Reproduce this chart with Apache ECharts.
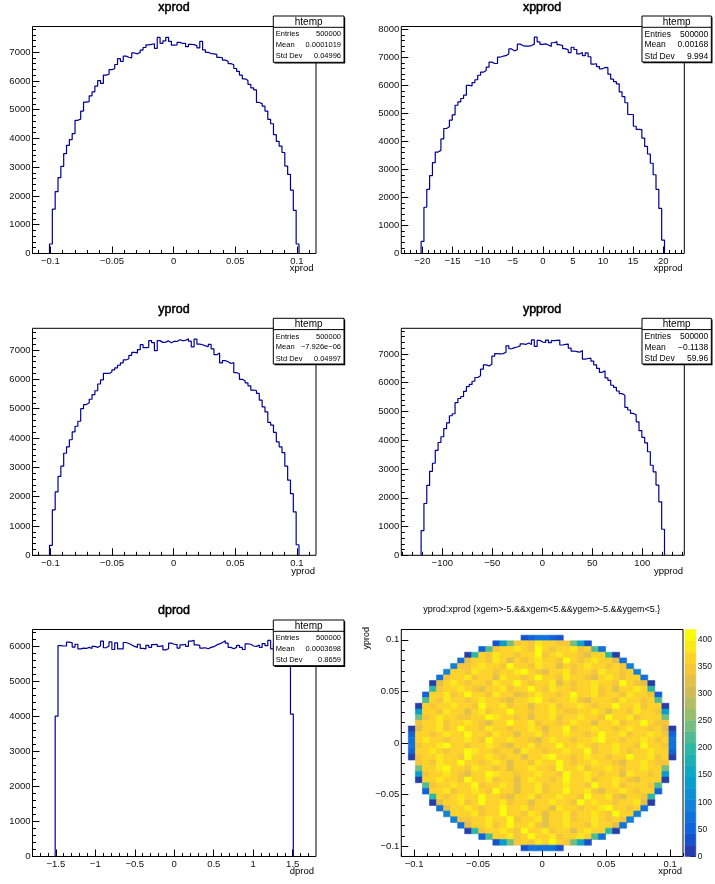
<!DOCTYPE html>
<html><head><meta charset="utf-8">
<script src="https://cdn.jsdelivr.net/npm/echarts@6/dist/echarts.min.js"></script>
<style>html,body{margin:0;padding:0;background:#fff;}#c{width:715px;height:884px;}</style>
</head><body><div id="c"></div>
<script>
// ---------------- DATA ----------------
const xprodCounts = [330,1540,2150,2640,3030,3470,3760,3960,4170,4630,
 4670,4950,5260,5280,5480,5620,5820,6010,5910,6200,
 6230,6390,6420,6570,6770,6680,6860,6820,6800,6970,
 6940,6990,7070,7160,7250,7270,7290,
 7130,7510,7300,7390,7510,7370,7240,7250,7340,7300,7300,7190,7270,7260,7220,7150,7370,
 7080,6990,6950,6940,6920,6820,6800,6720,6680,6600,6560,6430,6330,6200,6070,6010,5880,5760,5690,5250,
 5210,5120,4950,4660,4510,4130,3900,3730,3510,3040,2750,2200,1500,330];
const xpprodCounts = [430,1650,2290,2780,3240,3620,3680,4090,4460,4520,
 4760,4950,5290,5410,5530,5650,6000,5980,6100,6200,
 6360,6470,6530,6650,6830,6780,6780,7010,7040,7060,
 7130,7300,7230,7270,7470,7420,7400,7400,7420,7470,
 7720,7550,7460,7480,7440,7390,7520,7560,7450,7420,
 7310,7260,7170,7360,7280,7120,7170,7060,7160,7020,
 6760,6770,6670,6590,6640,6630,6400,6220,6130,6050,
 5770,5600,5380,4960,4960,4540,4430,4420,4120,3820,3550,3220,2810,2290,1610,480];
const yprodCounts = [340,1550,2160,2690,3040,3480,3700,3940,4210,4400,
 4570,5000,5140,5200,5320,5480,5610,5840,5980,6200,
 6200,6250,6320,6390,6480,6560,6660,6700,6820,6920,
 6900,7010,7180,7080,7090,7320,7250,
 6980,7320,7260,7270,7310,7250,7300,7290,7350,7320,7330,7380,7300,7110,7370,7200,7180,7140,7110,7190,7040,6840,6900,
 6560,6640,6600,6540,6570,6230,6180,6000,5950,5880,5780,5630,5620,5520,
 5290,5060,4890,4530,4440,4190,3870,3700,3500,3040,2560,2100,1480,360];
const ypprodCounts = [860,1800,2430,2920,3200,3650,3920,4120,4400,4600,
 4850,4920,5310,5450,5520,5700,5860,5940,6050,6180,
 6240,6470,6620,6580,6640,6920,7010,7000,7010,7060,
 7280,7180,7220,7240,7280,7350,7330,7380,7330,7490,
 7260,7470,7410,7400,7480,7390,7460,7470,7480,7310,
 7330,7340,7200,7100,7080,7060,7120,6820,6840,6850,
 6750,6620,6500,6360,6410,6170,6080,5910,5840,5710,5620,5560,
 5140,5050,4930,4880,4640,4330,4100,3910,3600,3130,2900,2440,1860,905];
const dprodCounts = [4000,6010,6000,6000,6110,6090,5970,6050,5920,5940,
 5930,5960,5930,5990,5960,6010,6140,5950,6000,6120,
 5900,6090,5920,5920,6100,6070,6030,5990,5960,6050,
 5930,5920,6020,5960,6040,6050,5990,6010,5890,5920,
 6080,6050,6040,5940,6030,6050,5990,6140,6160,6030,
 6020,5940,5950,5920,5960,5980,6030,6060,6100,6150,
 6080,5960,5920,5960,6020,5960,5900,6060,6050,6000,
 5990,6030,5960,6070,6010,6160,5920,6050,5980,6000,
 5930,6050,5990,4060];

// binning (histogram domain, data units)
const xprodBins  = {min:-0.1145, max:0.1155, first:-0.1007, width:0.0023};
const xpprodBins = {min:-23.5, max:23.5, first:-20.21, width:0.47};
const ypprodBins = {min:-141, max:142, first:-121.19, width:2.83};
const dprodBins  = {min:-1.795, max:1.795, first:-1.5078, width:0.0359};

// tick labels
const ticksProd   = [-0.1,-0.05,0,0.05,0.1];
const ticksXpprod = [-20,-15,-10,-5,0,5,10,15,20];
const ticksYpprod = [-100,-50,0,50,100];
const ticksDprod  = [-1.5,-1,-0.5,0,0.5,1,1.5];
const ticksCount7 = [0,1000,2000,3000,4000,5000,6000,7000];
const ticksCount8 = [0,1000,2000,3000,4000,5000,6000,7000,8000];
const ticksCount6 = [0,1000,2000,3000,4000,5000,6000];
const ticksPalette = [0,50,100,150,200,250,300,350,400];

// stats boxes
const statNames = ['Entries','Mean','Std Dev'];
const statsXprod  = ['500000','0.0001019','0.04996'];
const statsXpprod = ['500000','0.00168','9.994'];
const statsYprod  = ['500000','\u22127.926e\u221206','0.04997'];
const statsYpprod = ['500000','\u22120.1138','59.96'];
const statsDprod  = ['500000','0.0003698','0.8659'];

// 2D map yprod:xprod, 40x40 bins on [-0.11,0.11]; rows from y-bin 38 (top) down to 1.
// codes: palette band 0..19 written as base-36 digit (0-9,a-j)
const map2dRange = [-0.11, 0.11];
const map2dBins = 40;
const map2dZmax = 418.5;
const mapRowStart = [17,13,11,9,8,7,6,5,4,4,3,3,2,2,2,2,1,1,1,1,1,1,2,2,2,2,3,3,4,4,5,6,7,8,9,11,13,17];
const mapRows = [
 "123321",
 "16bg"+"hgihhg"+"gb71",
 "2a"+"ghhihgjhghhigh"+"a3",
 "09"+"hgihhghhjghihhgfhh"+"90",
 "3f"+"hhgihfhghihhgjhghihh"+"f3",
 "4g"+"ghihhgjhhgihhfhghihhgh"+"g4",
 "4h"+"hgihhghhijhgfhhighhgihhg"+"h4",
 "3"+"ghhighhfihhghjhhgihhgfhihghh"+"3",
 "0f"+"hihghhgihhjhghhifhghhihhgjhg"+"f0",
 "9"+"ghhihgfhhighhjhgihhghhighfhhih"+"9",
 "2"+"hhighjhhgihhfghihhghjhhighhgihhg"+"2",
 "a"+"hgihhghihhgfhhijhghhigfhhhgihhgh"+"a",
 "0h"+"ghhihhgjhhighhfhhighhihghhjhhigh"+"h0",
 "6"+"hhgihhfhighhjhhghhihgghhihfhhgihhg"+"6",
 "b"+"ghihhgghhjihhghfhhighhihhgjhhighhh"+"b",
 "g"+"hhighhihgfhhjhhighhghihhfhhighhjhg"+"g",
 "0"+"fhhighjhhgihhghhihfhhjghhihhghihhghf"+"0",
 "2"+"hhghihhjhhgihhfhhighhihhghjhhighhihg"+"2",
 "3"+"hihhghhihgjhhihhgfhihhghhijhhghhihgh"+"3",
 "3"+"ghhijhhghhihgfhhighhjhhihghhihhgjhhg"+"3",
 "2"+"hhihghhjihhghhfihhghhihhjghhihghhihh"+"2",
 "0"+"ghhihhgjhhihghhfhhijhhghihhghhjhhigh"+"0",
 "g"+"hgihhjhhghihfhhgihhjhghhihhgfhhihg"+"g",
 "b"+"hhijhhgihhghfhhihhgjhhighhihghhihh"+"b",
 "6"+"ghhihgfhhjihhghhihhgjhhihghhfihhgh"+"6",
 "0h"+"hihhgjhhighhfhihhghjhhighhihgfhh"+"h0",
 "a"+"ghhihhjghhihfhhighhihhgjhhighhhg"+"a",
 "2"+"hhighhihgjhhfhhighhjhhigfhhihghh"+"2",
 "9"+"hghihhjhhgfhhighhihhgjhhigfhhg"+"9",
 "0f"+"hhighjhhighhfhhihhgjhihhghhi"+"f0",
 "3"+"fhhihghhjhhighhfihhghhijhhgh"+"3",
 "4h"+"hhighhjhhgihfhhighhihgjh"+"h4",
 "4g"+"ghhihhjghhifhhighhihgh"+"g4",
 "3f"+"hhighjhhigfhhihhgihh"+"f3",
 "09"+"ghhihgjhhighhfhihh"+"90",
 "2a"+"hhighjhhighhih"+"a3",
 "16bg"+"hgihjh"+"gb71",
 "133331"
];
// ROOT kBird palette, 20 contour bands
const PALETTE = ['#263eaa','#1752cc','#1063dc','#1272d9','#1481d6','#0e8fd1','#099dcc','#0ea8c2','#1eafb3','#2eb7a4',
 '#52ba92','#75bd80','#96be71','#b3bd65','#d1bb59','#e3c04a','#f5c63a','#fdd32b','#fbe71c','#f9fb0e'];

// ---------------- BUILD ----------------
const FONT = '"Liberation Sans", Arial, Helvetica, sans-serif';
const LINE = '#000099';
const fmt = v => String(v).replace('-', '\u2212');
function minorTicks(min, max, step){
  const out=[]; let k=Math.ceil(min/step-1e-9);
  for(; k*step<=max+1e-9; k++) out.push(+(k*step).toFixed(6));
  return out;
}
function histData(bins, counts){
  const d=[[bins.first,0]];
  counts.forEach((c,i)=>d.push([bins.first+i*bins.width, c]));
  d.push([bins.first+counts.length*bins.width, 0]);
  return d;
}
const R1=26.5, R2=328.3, R3=629.5, GH=227;
const panels = [
 {grid:{left:32.5, top:R1, width:283.5, height:GH}, bins:xprodBins, ymax:7890, counts:xprodCounts, xt:ticksProd, xs:0.01, yt:ticksCount7},
 {grid:{left:401.3, top:R1, width:283, height:GH}, bins:xpprodBins, ymax:8100, counts:xpprodCounts, xt:ticksXpprod, xs:1, yt:ticksCount8},
 {grid:{left:32.5, top:R2, width:283.5, height:GH}, bins:xprodBins, ymax:7740, counts:yprodCounts, xt:ticksProd, xs:0.01, yt:ticksCount7},
 {grid:{left:401.3, top:R2, width:283, height:GH}, bins:ypprodBins, ymax:7890, counts:ypprodCounts, xt:ticksYpprod, xs:10, yt:ticksCount7},
 {grid:{left:32.5, top:R3, width:283.5, height:GH}, bins:dprodBins, ymax:6470, counts:dprodCounts, xt:ticksDprod, xs:0.1, yt:ticksCount6}
];
const grids=[], xAxes=[], yAxes=[], series=[];
const lblStyle = {fontSize:9.5, color:'#111', fontFamily:FONT};
const noLine = {show:false, onZero:false};
function addAxes(gi, xmin, xmax, ymin, ymax, xt, xs, yt, ys){
  xAxes.push({type:'value', gridIndex:gi, min:xmin, max:xmax, position:'bottom',
    axisLine:noLine, splitLine:{show:false},
    axisTick:{show:true, inside:true, length:7, customValues:xt, lineStyle:{color:'#000',width:1}},
    axisLabel:Object.assign({show:true, customValues:xt, formatter:fmt, margin:3}, lblStyle)});
  xAxes.push({type:'value', gridIndex:gi, min:xmin, max:xmax, position:'bottom',
    axisLine:noLine, splitLine:{show:false},
    axisTick:{show:true, inside:true, length:3.5, customValues:minorTicks(xmin,xmax,xs), lineStyle:{color:'#000',width:1}},
    axisLabel:{show:false}});
  yAxes.push({type:'value', gridIndex:gi, min:ymin, max:ymax, position:'left',
    axisLine:noLine, splitLine:{show:false},
    axisTick:{show:true, inside:true, length:7, customValues:yt, lineStyle:{color:'#000',width:1}},
    axisLabel:Object.assign({show:true, customValues:yt, formatter:fmt, margin:2}, lblStyle)});
  yAxes.push({type:'value', gridIndex:gi, min:ymin, max:ymax, position:'left',
    axisLine:noLine, splitLine:{show:false},
    axisTick:{show:true, inside:true, length:3.5, customValues:minorTicks(ymin,ymax,ys), lineStyle:{color:'#000',width:1}},
    axisLabel:{show:false}});
}
panels.forEach((p,gi)=>{
  grids.push(Object.assign({show:true, borderColor:'#000', borderWidth:1, backgroundColor:'#fff'}, p.grid));
  addAxes(gi, p.bins.min, p.bins.max, 0, p.ymax, p.xt, p.xs, p.yt, 200);
  series.push({type:'line', xAxisIndex:2*gi, yAxisIndex:2*gi, data:histData(p.bins,p.counts), step:'end',
    symbol:'none', silent:true, lineStyle:{color:LINE, width:1.2}, z:3});
});
// 2D panel
const g2 = panels.length;
grids.push({show:true, borderColor:'#000', borderWidth:1, backgroundColor:'#fff', left:401.3, top:R3, width:281.7, height:GH});
addAxes(g2, map2dRange[0], map2dRange[1], map2dRange[0], map2dRange[1], ticksProd, 0.01, ticksProd, 0.01);
const CELL = (map2dRange[1]-map2dRange[0])/map2dBins;
const cells=[];
mapRows.forEach((row,r)=>{
  const j = 38 - r;
  for(let k=0;k<row.length;k++){
    const band = parseInt(row[k],36);
    cells.push([map2dRange[0]+(mapRowStart[r]+k)*CELL, map2dRange[0]+j*CELL, (band+0.5)*map2dZmax/20]);
  }
});
series.push({type:'custom', xAxisIndex:2*g2, yAxisIndex:2*g2, data:cells, silent:true, clip:true,
  encode:{x:0,y:1},
  renderItem:(params, api)=>{
    const x0=api.value(0), y0=api.value(1), z=api.value(2);
    const p1=api.coord([x0,y0]), p2=api.coord([x0+CELL,y0+CELL]);
    const c = PALETTE[Math.min(19, Math.floor(z/map2dZmax*20))];
    return {type:'rect', shape:{x:p1[0], y:p2[1], width:p2[0]-p1[0], height:p1[1]-p2[1]},
      style:{fill:c, stroke:c, lineWidth:0.6}};
  }});
// palette
const gp = g2+1;
grids.push({show:false, left:685, top:R3, width:16.7, height:GH});
xAxes.push({type:'value', gridIndex:gp, min:0, max:1, show:false});
yAxes.push({type:'value', gridIndex:gp, min:0, max:map2dZmax, position:'right',
  axisLine:noLine, splitLine:{show:false},
  axisTick:{show:true, inside:true, length:6, customValues:ticksPalette, lineStyle:{color:'#000',width:1}},
  axisLabel:{show:true, customValues:ticksPalette, margin:2, fontSize:8.5, color:'#111', fontFamily:FONT}});
series.push({type:'custom', xAxisIndex:xAxes.length-1, yAxisIndex:yAxes.length-1,
  data:PALETTE.map((c,k)=>[k]), silent:true, encode:{y:0},
  renderItem:(params, api)=>{
    const k=api.value(0);
    const p1=api.coord([0, k*map2dZmax/20]), p2=api.coord([1,(k+1)*map2dZmax/20]);
    return {type:'rect', shape:{x:p1[0], y:p2[1], width:p2[0]-p1[0], height:p1[1]-p2[1]},
      style:{fill:PALETTE[k], stroke:PALETTE[k], lineWidth:0.5}};
  }});

// ---------------- TEXT / BOXES ----------------
const G=[];
function txt(t,x,y,size,align,extra,bold){
  const st={text:t, font:size+'px '+FONT, fill:'#000', textAlign:align||'center', textVerticalAlign:'middle'};
  if(bold){ st.stroke='#000'; st.lineWidth=bold; }
  G.push(Object.assign({type:'text', x:x, y:y, z:100, style:st}, extra||{}));
}
txt('xprod',174,7.5,12.5,'center',null,0.5); txt('xpprod',542,7.5,12.5,'center',null,0.5);
txt('yprod',174,309.5,12.5,'center',null,0.5); txt('ypprod',542,309.5,12.5,'center',null,0.5);
txt('dprod',174,610.5,12.5,'center',null,0.5);
txt('yprod:xprod {xgem>-5.&&xgem<5.&&ygem>-5.&&ygem<5.}',541.7,610,9);
txt('xprod',313.5,268.3,9.5,'right'); txt('xpprod',682.5,268.3,9.5,'right');
txt('yprod',315,571.7,9.5,'right'); txt('ypprod',683,571.7,9.5,'right');
txt('dprod',314,871.7,9.5,'right'); txt('xprod',682,871.7,9.5,'right');
txt('yprod',366.5,627,9,'right',{rotation:Math.PI/2});
function statBox(x,y,w,h,fs,vals){
  G.push({type:'rect', z:99, shape:{x:x+1.2,y:y+1.2,width:w,height:h}, style:{fill:'#000'}});
  G.push({type:'rect', z:100, shape:{x:x,y:y,width:w,height:h}, style:{fill:'#fff',stroke:'#000',lineWidth:1}});
  G.push({type:'line', z:101, shape:{x1:x,y1:y+11.3,x2:x+w,y2:y+11.3}, style:{stroke:'#000',lineWidth:1}});
  txt('htemp', x+w/2, y+5.8, 10);
  const rowsY=[18.3,29,40.4];
  vals.forEach((v,i)=>{
    txt(statNames[i], x+2.5, y+rowsY[i], fs, 'left');
    txt(v, x+w-3, y+rowsY[i], fs, 'right');
  });
}
statBox(273.3,16,70.7,46.3,7.5,statsXprod);
statBox(642,16,69.3,46,8.5,statsXpprod);
statBox(273.3,318.3,70.7,45.7,7.5,statsYprod);
statBox(642,318.3,69.3,45.7,8.5,statsYpprod);
statBox(273.3,620,70.7,45.7,7.5,statsDprod);

const chart = echarts.init(document.getElementById('c'), null, {renderer:'canvas', width:715, height:884, devicePixelRatio:1});
chart.setOption({animation:false, backgroundColor:'#fff', grid:grids, xAxis:xAxes, yAxis:yAxes, series:series,
  graphic:{elements:G}});
</script></body></html>
